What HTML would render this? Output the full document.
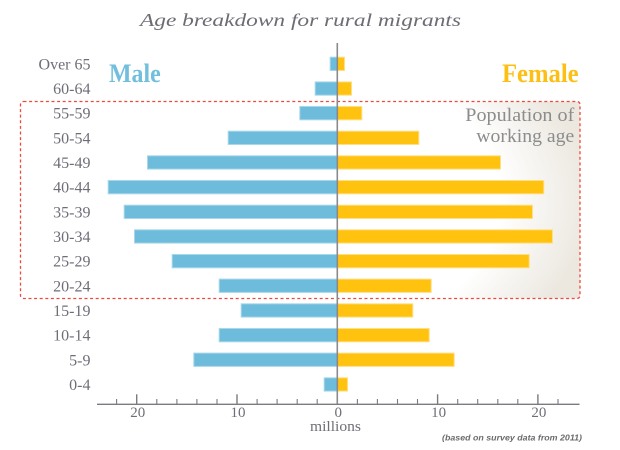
<!DOCTYPE html>
<html>
<head>
<meta charset="utf-8">
<style>
html,body{margin:0;padding:0;background:#fff;}
svg{display:block;}
</style>
</head>
<body>
<svg width="620" height="450" viewBox="0 0 620 450" xmlns="http://www.w3.org/2000/svg">
  <defs>
    <radialGradient id="bg" gradientUnits="userSpaceOnUse" cx="0" cy="0" r="1" gradientTransform="translate(200,200) scale(390,220)">
      <stop offset="0" stop-color="#ffffff"/>
      <stop offset="0.77" stop-color="#ffffff"/>
      <stop offset="1.05" stop-color="#ece8e0"/>
    </radialGradient>
  </defs>
  <rect width="620" height="450" fill="#fff"/>

  <!-- working age box -->
  <rect x="20.5" y="101.5" width="559.5" height="197" rx="3" fill="url(#bg)" stroke="#ec4a3e" stroke-width="1.3" stroke-dasharray="3 2.6"/>

  <!-- title -->
  <text x="140" y="26" font-family="Liberation Serif, serif" font-style="italic" font-size="18" fill="#6c6c74" textLength="321" lengthAdjust="spacingAndGlyphs">Age breakdown for rural migrants</text>

  <!-- Male / Female -->
  <text x="109" y="82" font-family="Liberation Serif, serif" font-weight="bold" font-size="26" fill="#72bedd" textLength="51.7" lengthAdjust="spacingAndGlyphs">Male</text>
  <text x="502" y="82" font-family="Liberation Serif, serif" font-weight="bold" font-size="26" fill="#fdbf14" textLength="76.6" lengthAdjust="spacingAndGlyphs">Female</text>

  <!-- Population of working age -->
  <g font-family="Liberation Serif, serif" font-size="19" fill="#8c8c8c" text-anchor="end">
    <text x="574.3" y="121" textLength="109" lengthAdjust="spacingAndGlyphs">Population of</text>
    <text x="574.3" y="142" textLength="98" lengthAdjust="spacingAndGlyphs">working age</text>
  </g>

  <!-- bars -->
  <g stroke-width="1">
    <!-- male -->
    <g fill="#6ebcdb" stroke="#a8d7ea">
      <rect x="330.2" y="57.2" width="7.1" height="13.3"/>
      <rect x="315.2" y="81.9" width="22.1" height="13.3"/>
      <rect x="299.8" y="106.5" width="37.5" height="13.3"/>
      <rect x="228.2" y="131.2" width="109.1" height="13.3"/>
      <rect x="147.5" y="155.8" width="189.8" height="13.3"/>
      <rect x="108.2" y="180.5" width="229.1" height="13.3"/>
      <rect x="124.2" y="205.2" width="213.1" height="13.3"/>
      <rect x="134.5" y="229.8" width="202.8" height="13.3"/>
      <rect x="172.2" y="254.5" width="165.1" height="13.3"/>
      <rect x="219.2" y="279.1" width="118.1" height="13.3"/>
      <rect x="241.2" y="303.8" width="96.1" height="13.3"/>
      <rect x="219.2" y="328.5" width="118.1" height="13.3"/>
      <rect x="193.8" y="353.1" width="143.5" height="13.3"/>
      <rect x="324.2" y="377.8" width="13.1" height="13.3"/>
    </g>
    <!-- female -->
    <g fill="#ffc20e" stroke="#ffdf85">
      <rect x="337.3" y="57.2" width="7.2" height="13.3"/>
      <rect x="337.3" y="81.9" width="14.2" height="13.3"/>
      <rect x="337.3" y="106.5" width="24.5" height="13.3"/>
      <rect x="337.3" y="131.2" width="81.5" height="13.3"/>
      <rect x="337.3" y="155.8" width="163.2" height="13.3"/>
      <rect x="337.3" y="180.5" width="206.5" height="13.3"/>
      <rect x="337.3" y="205.2" width="195.2" height="13.3"/>
      <rect x="337.3" y="229.8" width="215.2" height="13.3"/>
      <rect x="337.3" y="254.5" width="191.9" height="13.3"/>
      <rect x="337.3" y="279.1" width="93.9" height="13.3"/>
      <rect x="337.3" y="303.8" width="75.5" height="13.3"/>
      <rect x="337.3" y="328.5" width="91.9" height="13.3"/>
      <rect x="337.3" y="353.1" width="116.9" height="13.3"/>
      <rect x="337.3" y="377.8" width="10.2" height="13.3"/>
    </g>
  </g>

  <!-- center vertical line -->
  <line x1="337.3" y1="43" x2="337.3" y2="404.5" stroke="#8a8a8e" stroke-width="1.6"/>

  <!-- y labels -->
  <g font-family="Liberation Serif, serif" font-size="16" fill="#6e6e78" text-anchor="end">
    <text x="90.5" y="69.4">Over 65</text>
    <text x="90.5" y="94.1">60-64</text>
    <text x="90.5" y="118.7">55-59</text>
    <text x="90.5" y="143.4">50-54</text>
    <text x="90.5" y="168.0">45-49</text>
    <text x="90.5" y="192.7">40-44</text>
    <text x="90.5" y="217.4">35-39</text>
    <text x="90.5" y="242.0">30-34</text>
    <text x="90.5" y="266.7">25-29</text>
    <text x="90.5" y="291.3">20-24</text>
    <text x="90.5" y="316.0">15-19</text>
    <text x="90.5" y="340.7">10-14</text>
    <text x="90.5" y="365.3">5-9</text>
    <text x="90.5" y="390.0">0-4</text>
  </g>

  <!-- x axis -->
  <g stroke="#7a7a80" stroke-width="1.4">
    <line x1="97" y1="404.3" x2="579.5" y2="404.3"/>
    <!-- major ticks -->
    <line x1="136.7" y1="394.3" x2="136.7" y2="404.3"/>
    <line x1="237" y1="394.3" x2="237" y2="404.3"/>
    <line x1="437.6" y1="394.3" x2="437.6" y2="404.3"/>
    <line x1="537.9" y1="394.3" x2="537.9" y2="404.3"/>
    <!-- minor ticks -->
    <g stroke-width="1.1">
      <line x1="116.6" y1="399" x2="116.6" y2="404.3"/>
      <line x1="156.8" y1="399" x2="156.8" y2="404.3"/>
      <line x1="176.9" y1="399" x2="176.9" y2="404.3"/>
      <line x1="196.9" y1="399" x2="196.9" y2="404.3"/>
      <line x1="217" y1="399" x2="217" y2="404.3"/>
      <line x1="257.1" y1="399" x2="257.1" y2="404.3"/>
      <line x1="277.1" y1="399" x2="277.1" y2="404.3"/>
      <line x1="297.2" y1="399" x2="297.2" y2="404.3"/>
      <line x1="317.2" y1="399" x2="317.2" y2="404.3"/>
      <line x1="357.4" y1="399" x2="357.4" y2="404.3"/>
      <line x1="377.4" y1="399" x2="377.4" y2="404.3"/>
      <line x1="397.5" y1="399" x2="397.5" y2="404.3"/>
      <line x1="417.5" y1="399" x2="417.5" y2="404.3"/>
      <line x1="457.7" y1="399" x2="457.7" y2="404.3"/>
      <line x1="477.7" y1="399" x2="477.7" y2="404.3"/>
      <line x1="497.8" y1="399" x2="497.8" y2="404.3"/>
      <line x1="517.8" y1="399" x2="517.8" y2="404.3"/>
      <line x1="558" y1="399" x2="558" y2="404.3"/>
    </g>
  </g>

  <!-- x tick labels -->
  <g font-family="Liberation Serif, serif" font-size="15" fill="#6e6e78" text-anchor="middle">
    <text x="137.7" y="417">20</text>
    <text x="238" y="417">10</text>
    <text x="338.3" y="417">0</text>
    <text x="438.6" y="417">10</text>
    <text x="538.9" y="417">20</text>
  </g>
  <text x="335.5" y="431" font-family="Liberation Serif, serif" font-size="15" fill="#6e6e78" text-anchor="middle" textLength="51" lengthAdjust="spacingAndGlyphs">millions</text>

  <!-- footnote -->
  <text x="442" y="440.5" font-family="Liberation Sans, sans-serif" font-style="italic" font-weight="bold" font-size="8.5" fill="#6a6a6a" textLength="140" lengthAdjust="spacingAndGlyphs">(based on survey data from 2011)</text>
</svg>
</body>
</html>
